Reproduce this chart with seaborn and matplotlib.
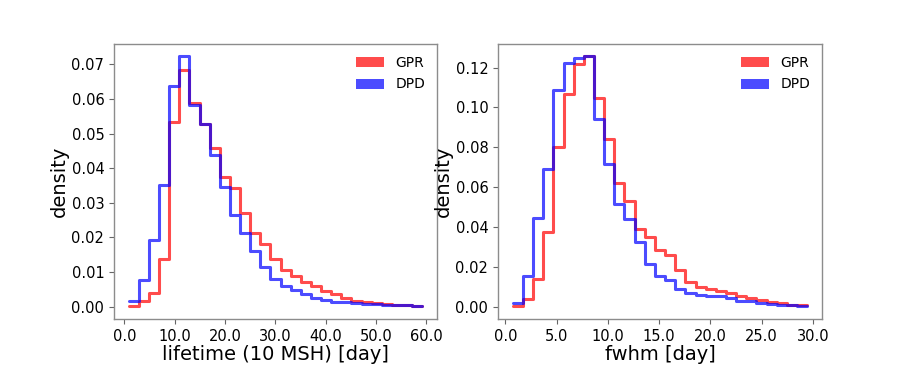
import numpy as np
import pandas as pd
import matplotlib
matplotlib.use("Agg")
import matplotlib.pyplot as plt
import seaborn as sns
from matplotlib.patches import Patch

# ---- data (density per bin) ----
life_range = (0.85, 59.2)
life_gpr = [0.0002, 0.0016, 0.0038, 0.0136, 0.0534, 0.0683, 0.0589, 0.0527, 0.0457, 0.0374,
            0.0344, 0.0270, 0.0213, 0.0182, 0.0136, 0.0107, 0.0088, 0.0072, 0.0058, 0.0045,
            0.0035, 0.0026, 0.0017, 0.0013, 0.0010, 0.0007, 0.0005, 0.0004, 0.0002]
life_dpd = [0.0016, 0.0077, 0.0191, 0.0350, 0.0637, 0.0723, 0.0582, 0.0527, 0.0438, 0.0347,
            0.0266, 0.0213, 0.0160, 0.0114, 0.0079, 0.0058, 0.0048, 0.0035, 0.0026, 0.0019,
            0.0014, 0.0012, 0.0010, 0.0008, 0.0006, 0.0005, 0.0004, 0.0003, 0.0002]

fwhm_range = (0.71, 29.45)
fwhm_gpr = [0.0005, 0.0038, 0.0138, 0.0376, 0.0800, 0.1070, 0.1216, 0.1256, 0.1045, 0.0840,
            0.0621, 0.0532, 0.0391, 0.0351, 0.0285, 0.0260, 0.0183, 0.0121, 0.0097, 0.0088,
            0.0077, 0.0067, 0.0052, 0.0043, 0.0033, 0.0025, 0.0017, 0.0010, 0.0007]
fwhm_dpd = [0.0017, 0.0155, 0.0446, 0.0690, 0.1086, 0.1225, 0.1250, 0.1256, 0.0940, 0.0717,
            0.0516, 0.0438, 0.0326, 0.0213, 0.0151, 0.0135, 0.0088, 0.0067, 0.0060, 0.0052,
            0.0052, 0.0043, 0.0027, 0.0027, 0.0017, 0.0013, 0.0010, 0.0007, 0.0005]

series_names = ["GPR", "DPD"]
series_colors = {"GPR": "red", "DPD": "blue"}

panels = [
    dict(rng=life_range, vals={"GPR": life_gpr, "DPD": life_dpd},
         xlabel="lifetime (10 MSH) [day]", xticks=[0, 10, 20, 30, 40, 50, 60],
         yticks=[0.00, 0.01, 0.02, 0.03, 0.04, 0.05, 0.06, 0.07]),
    dict(rng=fwhm_range, vals={"GPR": fwhm_gpr, "DPD": fwhm_dpd},
         xlabel="fwhm [day]", xticks=[0, 5, 10, 15, 20, 25, 30],
         yticks=[0.00, 0.02, 0.04, 0.06, 0.08, 0.10, 0.12]),
]

sns.set_style("white")
plt.rcParams['font.family'] = ['DejaVu Sans']
plt.rcParams['text.color'] = 'black'
plt.rcParams['axes.labelcolor'] = 'black'

fig = plt.figure(figsize=(9.13, 3.66), dpi=100)
axes = [fig.add_axes([0.1249, 0.1284, 0.3537, 0.7514]),
        fig.add_axes([0.5455, 0.1284, 0.3548, 0.7514])]

for ax, p in zip(axes, panels):
    n = len(p["vals"]["GPR"])
    lo, hi = p["rng"]
    width = (hi - lo) / n
    centers = [lo + width * (i + 0.5) for i in range(n)]
    for s in series_names:
        df = pd.DataFrame({"x": centers, "w": p["vals"][s]})
        sns.histplot(data=df, x="x", weights="w", bins=n, binrange=(lo, hi),
                     element="step", fill=False, color=series_colors[s], alpha=0.7,
                     linewidth=2.2, ax=ax)
    ymax = max(max(p["vals"][s]) for s in series_names)
    ax.set_ylim(-0.05 * ymax, 1.05 * ymax)
    ax.set_xlim(lo - 0.05 * (hi - lo), hi + 0.05 * (hi - lo))
    ax.set_xticks(p["xticks"])
    ax.set_xticklabels([f"{t:.1f}" for t in p["xticks"]])
    ax.set_yticks(p["yticks"])
    ax.set_yticklabels([f"{t:.2f}" for t in p["yticks"]])
    ax.tick_params(axis="both", labelsize=10.5, length=3.5, width=0.8, color="0.4",
                   labelcolor="black", direction="out", bottom=True, left=True)
    ax.set_xlabel(p["xlabel"], fontsize=14, labelpad=1)
    ax.set_ylabel("density", fontsize=14, labelpad=2)
    for sp in ax.spines.values():
        sp.set_color("0.55")
        sp.set_linewidth(1.0)
    handles = [Patch(facecolor=series_colors[s], alpha=0.7, edgecolor="none") for s in series_names]
    ax.legend(handles, series_names, loc="upper right", frameon=False, fontsize=10,
              handlelength=2.0, handleheight=0.75, labelspacing=0.55, borderaxespad=0.45)

fig.savefig("out.png", dpi=100)
